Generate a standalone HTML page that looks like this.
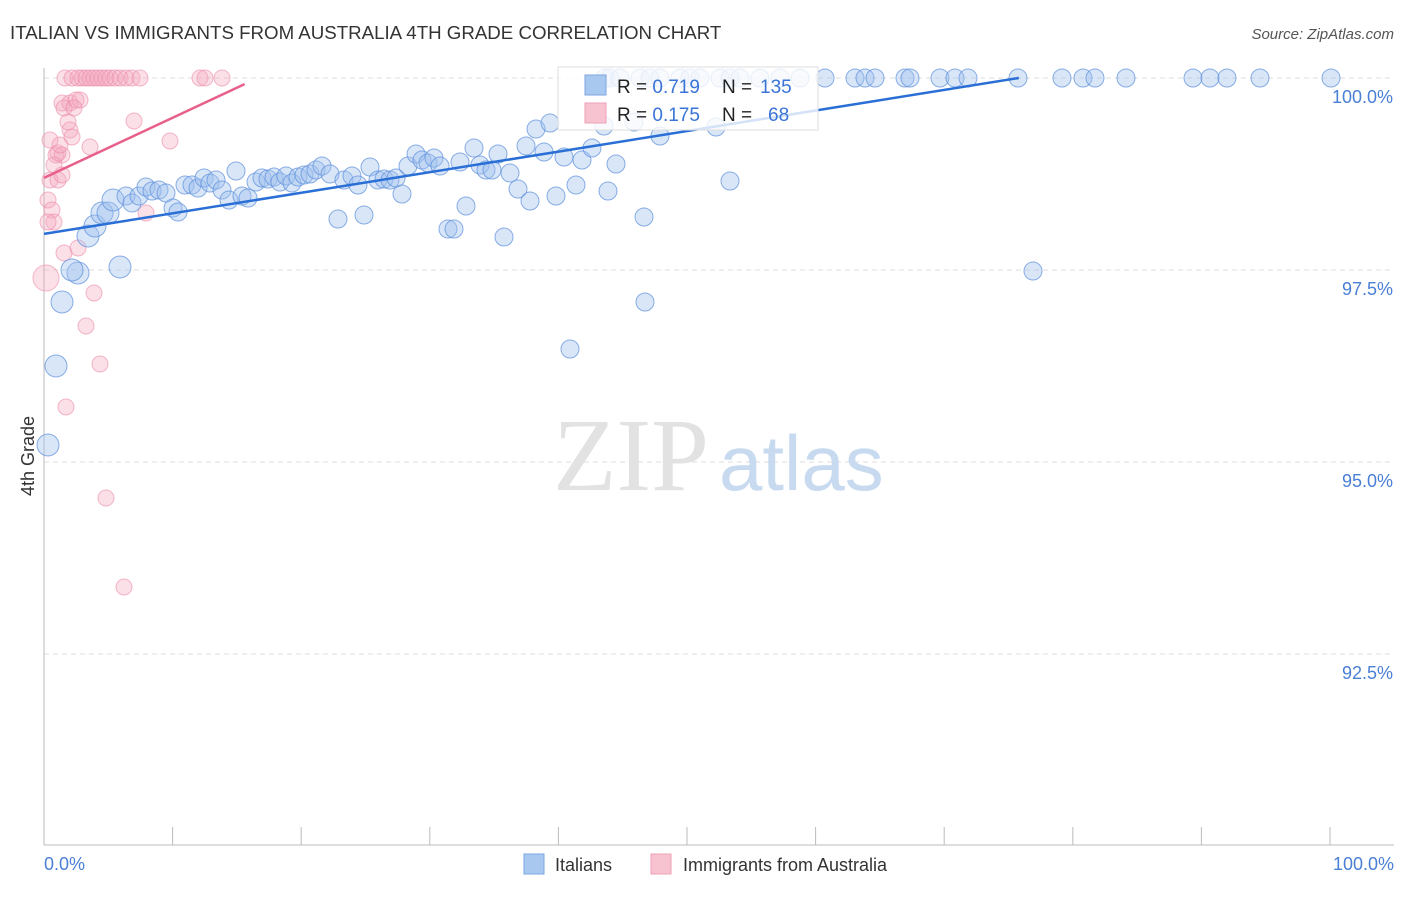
<!DOCTYPE html>
<html><head><meta charset="utf-8"><style>
body{margin:0;background:#fff;font-family:"Liberation Sans",sans-serif}
svg text{font-family:"Liberation Sans",sans-serif}
</style></head><body>
<svg id="chart" width="1406" height="892" xmlns="http://www.w3.org/2000/svg">
<text x="10" y="39" font-size="18.7" fill="#333">ITALIAN VS IMMIGRANTS FROM AUSTRALIA 4TH GRADE CORRELATION CHART</text>
<text x="1394" y="39" font-size="15" fill="#555" text-anchor="end" font-style="italic">Source: ZipAtlas.com</text>
<g id="grid"></g>
<g>
<text x="553" y="490" font-size="104" fill="#e2e2e2" font-family="Liberation Serif" style="font-family:'Liberation Serif',serif">ZIP</text>
<text x="719" y="490" font-size="78" fill="#c8daf0">atlas</text></g>
<g id="pts"></g>
<g id="trend"></g>
<text x="34" y="456" font-size="18" fill="#333" text-anchor="middle" transform="rotate(-90 34 456)">4th Grade</text>
<text x="44" y="870" font-size="18" fill="#4a7fd6">0.0%</text>
<text x="1394" y="870" font-size="18" fill="#4a7fd6" text-anchor="end">100.0%</text>
<g>
<rect x="558" y="67" width="260" height="63" fill="#fff" fill-opacity="0.8" stroke="#ddd"/>
<rect x="585" y="75" width="21" height="20" fill="#a9c8f0" stroke="#7aa6e0"/>
<rect x="585" y="103" width="21" height="20" fill="#f8c3d1" stroke="#eea0b5"/>
<text x="617" y="93" font-size="19" fill="#222">R = <tspan fill="#3a74d6">0.719</tspan><tspan x="722">N = </tspan><tspan x="760" fill="#3a74d6">135</tspan></text>
<text x="617" y="121" font-size="19" fill="#222">R = <tspan fill="#3a74d6">0.175</tspan><tspan x="722">N = </tspan><tspan x="768" fill="#3a74d6">68</tspan></text>
</g>
<g>
<rect x="524" y="854" width="20" height="20" fill="#a9c8f0" stroke="#7aa6e0"/>
<text x="555" y="871" font-size="18" fill="#333">Italians</text>
<rect x="651" y="854" width="20" height="20" fill="#f8c3d1" stroke="#eea0b5"/>
<text x="683" y="871" font-size="18" fill="#333">Immigrants from Australia</text>
</g>
</svg>
<script>
const yTicks=[100,97.5,95,92.5];
const yTickLabels=["100.0%","97.5%","95.0%","92.5%"];
const xTicks=[0,10,20,30,40,50,60,70,80,90,100];
const bluePx=[[48,445],[56,366],[62,302],[78,273],[72,270],[120,267],[88,236],[95,226],[102,213],[108,213],[113,200],[126,196],[132,203],[139,196],[146,187],[152,191],[159,190],[166,193],[173,208],[178,212],[185,185],[192,185],[198,188],[204,178],[210,183],[216,180],[222,190],[229,200],[236,171],[242,196],[248,198],[256,182],[262,178],[268,179],[274,177],[280,182],[286,176],[292,183],[298,177],[304,175],[310,174],[316,170],[322,166],[330,174],[338,219],[344,180],[352,176],[358,185],[364,215],[370,167],[378,180],[384,179],[390,180],[396,178],[402,194],[408,166],[416,154],[422,160],[428,163],[434,158],[440,166],[448,229],[454,229],[460,162],[466,206],[474,148],[480,165],[486,170],[492,170],[498,154],[504,237],[510,173],[518,189],[526,146],[530,201],[536,129],[544,152],[550,123],[556,196],[564,157],[570,349],[576,185],[582,160],[592,148],[604,126],[608,191],[616,164],[634,122],[644,217],[645,302],[660,136],[716,127],[730,181],[1033,271]];
const blueTopX=[605,610,620,640,650,660,680,690,700,720,730,740,760,780,800,825,855,865,875,905,910,940,955,968,1018,1062,1083,1095,1126,1193,1210,1227,1260,1331];
const pinkTopX=[65,72,78,82,86,90,94,98,102,106,110,115,120,126,132,140,200,205,222];
const pinkPx=[[62,103],[70,103],[76,100],[80,100],[64,108],[74,108],[68,122],[70,130],[72,137],[62,155],[56,155],[58,153],[54,165],[50,180],[58,180],[62,175],[90,147],[134,121],[170,141],[146,213],[48,200],[52,210],[54,222],[48,222],[64,253],[78,248],[46,278],[94,293],[86,326],[100,364],[66,407],[106,498],[124,587],[50,140],[60,145]];
const toX=p=>(p-44)/12.86, toY=p=>100-(p-78)/76.8;
const italianX=bluePx.map(p=>toX(p[0])).concat(blueTopX.map(toX));
const italianY=bluePx.map(p=>toY(p[1])).concat(blueTopX.map(()=>100));
const ausX=pinkPx.map(p=>toX(p[0])).concat(pinkTopX.map(toX));
const ausY=pinkPx.map(p=>toY(p[1])).concat(pinkTopX.map(()=>100));
const blueTrend=[[0,97.97],[75.8,100]];
const pinkTrend=[[0,98.7],[15.6,99.92]];
const X=v=>44+v*12.86, Y=v=>78+(100-v)*76.8;
const NS="http://www.w3.org/2000/svg";
function mk(t,a,p){const e=document.createElementNS(NS,t);for(const k in a)e.setAttribute(k,a[k]);p.appendChild(e);return e;}
const g=document.getElementById('grid');
yTicks.forEach((t,i)=>{
 const l=mk('line',{x1:44,x2:1394,y1:Y(t),y2:Y(t),stroke:'#ddd','stroke-dasharray':'5,4'},g);
 
 
 const tx=mk('text',{x:1393,y:Y(t)+25,'font-size':18,fill:'#4a7fd6','text-anchor':'end'},g);
 tx.textContent=yTickLabels[i];
 
 
});
const ax=mk('line',{x1:44,x2:44,y1:68,y2:845,stroke:'#bbb'},g);


const bx=mk('line',{x1:44,x2:1394,y1:845,y2:845,stroke:'#bbb'},g);


xTicks.forEach(t=>{const l=mk('line',{x1:X(t),x2:X(t),y1:827,y2:845,stroke:'#bbb'},g);
 
 });
const pg=document.getElementById('pts');
ausX.forEach((x,i)=>{const c=mk('circle',{cx:X(x),cy:Y(ausY[i]),r:(i==26?13:8),fill:'#f4a6bd','fill-opacity':0.35,stroke:'#ec8aa8','stroke-opacity':0.6},pg);
 
 });
italianX.forEach((x,i)=>{const c=mk('circle',{cx:X(x),cy:Y(italianY[i]),r:(x<6?11:9),fill:'#9fc1ee','fill-opacity':0.4,stroke:'#5b8fdc','stroke-opacity':0.7},pg);
 
 });
const tg=document.getElementById('trend');
const b=mk('line',{x1:X(blueTrend[0][0]),y1:Y(blueTrend[0][1]),x2:X(blueTrend[1][0]),y2:Y(blueTrend[1][1]),stroke:'#2a6fd6','stroke-width':2.5},tg);


const p=mk('line',{x1:X(pinkTrend[0][0]),y1:Y(pinkTrend[0][1]),x2:X(pinkTrend[1][0]),y2:Y(pinkTrend[1][1]),stroke:'#e8608a','stroke-width':2.5},tg);


</script>
</body></html>
